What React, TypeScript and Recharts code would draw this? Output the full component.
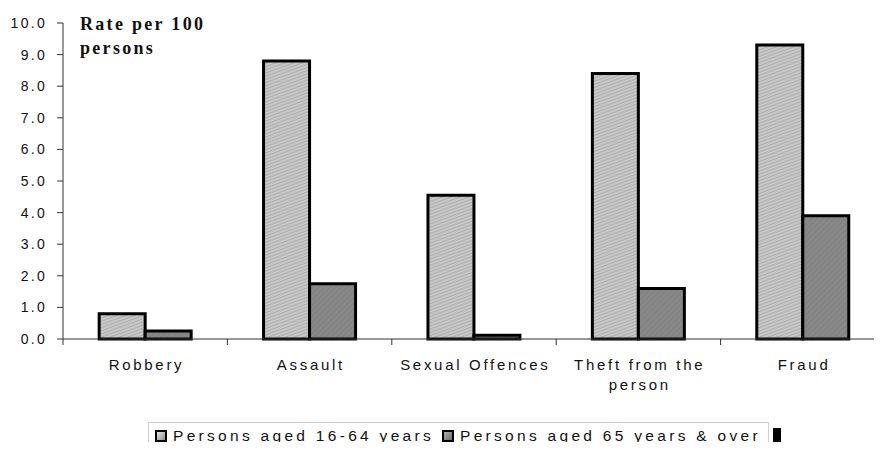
import React from "react";
import { BarChart, Bar, XAxis, YAxis } from "recharts";

const categories = ["Robbery", "Assault", "Sexual Offences", "Theft from the person", "Fraud"];
const aged16to64 = [0.8, 8.8, 4.55, 8.4, 9.3];
const aged65plus = [0.25, 1.75, 0.12, 1.6, 3.9];
const yTicks = [0, 1, 2, 3, 4, 5, 6, 7, 8, 9, 10];
const seriesNames = ["Persons aged 16-64 years", "Persons aged 65 years & over"];

const data = categories.map((name, i) => ({
  name,
  young: aged16to64[i],
  old: aged65plus[i],
}));

const AXIS_FONT = "'Liberation Sans', Arial, sans-serif";
const CHART_W = 890;
const Y_AXIS_W = 63;
const MARGIN_R = 5;
const BAND = (CHART_W - Y_AXIS_W - MARGIN_R) / categories.length;
const TICK_SIZE = 6;
const TICK_MARGIN = 2;

function wrapLabel(text: string, maxChars: number): string[] {
  const words = text.split(" ");
  const lines: string[] = [];
  let cur = "";
  for (const w of words) {
    const next = cur ? cur + " " + w : w;
    if (next.length > maxChars && cur) {
      lines.push(cur);
      cur = w;
    } else {
      cur = next;
    }
  }
  if (cur) lines.push(cur);
  return lines;
}

const CategoryTick = (props: any) => {
  const { x, y, payload } = props;
  const lines = wrapLabel(String(payload.value), 15);
  const axisY = y - TICK_SIZE - TICK_MARGIN;
  const bx = x - BAND / 2;
  return (
    <g>
      <line x1={bx} x2={bx} y1={axisY} y2={axisY + 6} stroke="#333" strokeWidth={1} />
      {lines.map((ln, i) => (
        <text
          key={i}
          x={x + 1.3}
          y={y + 23 + i * 20}
          textAnchor="middle"
          fontFamily={AXIS_FONT}
          fontSize={15}
          letterSpacing={2.7}
          fill="#111"
        >
          {ln}
        </text>
      ))}
    </g>
  );
};

const LegendSwatch = ({ fill }: { fill: string }) => (
  <span
    style={{
      display: "inline-block",
      width: 8,
      height: 8,
      border: "2px solid #000",
      background: fill,
      marginRight: 6,
      verticalAlign: "-1px",
    }}
  />
);

export default function App() {
  return (
    <div
      style={{
        position: "relative",
        margin: -8,
        width: 882,
        height: 450,
        overflow: "hidden",
        background: "#fff",
      }}
    >
      <BarChart
        width={CHART_W}
        height={450}
        data={data}
        margin={{ top: 23, right: MARGIN_R, bottom: 51, left: 0 }}
        barCategoryGap="22%"
        barGap={0}
      >
        <defs>
          <pattern id="hatchLight" width="3" height="3" patternUnits="userSpaceOnUse" patternTransform="rotate(70)">
            <rect width="3" height="3" fill="#c8c8c8" />
            <rect width="1" height="3" fill="#adadad" />
          </pattern>
          <pattern id="hatchDark" width="4" height="4" patternUnits="userSpaceOnUse" patternTransform="rotate(45)">
            <rect width="4" height="4" fill="#888888" />
            <rect width="1" height="4" fill="#808080" />
          </pattern>
        </defs>
        <XAxis
          xAxisId="cat"
          dataKey="name"
          interval={0}
          axisLine={{ stroke: "#333" }}
          tickLine={false}
          tickSize={TICK_SIZE}
          tickMargin={TICK_MARGIN}
          height={60}
          tick={<CategoryTick />}
        />
        <YAxis
          domain={[0, 10]}
          ticks={yTicks}
          interval={0}
          width={Y_AXIS_W}
          tickSize={6}
          tickMargin={10}
          stroke="#333"
          tickFormatter={(v: number) => v.toFixed(1)}
          tick={{ fontFamily: AXIS_FONT, fontSize: 14, fill: "#111", letterSpacing: 2.3 }}
        />
        <Bar
          xAxisId="cat"
          dataKey="young"
          name={seriesNames[0]}
          fill="url(#hatchLight)"
          stroke="#000"
          strokeWidth={3}
          isAnimationActive={false}
        />
        <Bar
          xAxisId="cat"
          dataKey="old"
          name={seriesNames[1]}
          fill="url(#hatchDark)"
          stroke="#000"
          strokeWidth={3}
          isAnimationActive={false}
        />
        <text
          x={80}
          y={30}
          fontFamily="'Liberation Serif', 'Times New Roman', serif"
          fontWeight="bold"
          fontSize={18}
          letterSpacing={2.3}
          fill="#111"
        >
          Rate per 100
        </text>
        <text
          x={80}
          y={54}
          fontFamily="'Liberation Serif', 'Times New Roman', serif"
          fontWeight="bold"
          fontSize={18}
          letterSpacing={2.3}
          fill="#111"
        >
          persons
        </text>
      </BarChart>
      <div
        style={{
          position: "absolute",
          left: 148,
          top: 422,
          width: 621,
          height: 40,
          border: "1px solid #d0d0d0",
          boxSizing: "border-box",
          fontFamily: AXIS_FONT,
          fontSize: 15.5,
          letterSpacing: 3.3,
          color: "#111",
          whiteSpace: "nowrap",
          paddingLeft: 6,
          paddingTop: 4,
        }}
      >
        <LegendSwatch fill="linear-gradient(135deg, #e6e6e6, #8f8f8f)" />
        <span>{seriesNames[0]}</span>
        <span style={{ display: "inline-block", width: 8 }} />
        <LegendSwatch fill="linear-gradient(135deg, #b0b0b0, #6a6a6a)" />
        <span>{seriesNames[1]}</span>
      </div>
      <div
        style={{
          position: "absolute",
          left: 773,
          top: 428,
          width: 8,
          height: 30,
          background: "#000",
        }}
      />
    </div>
  );
}
